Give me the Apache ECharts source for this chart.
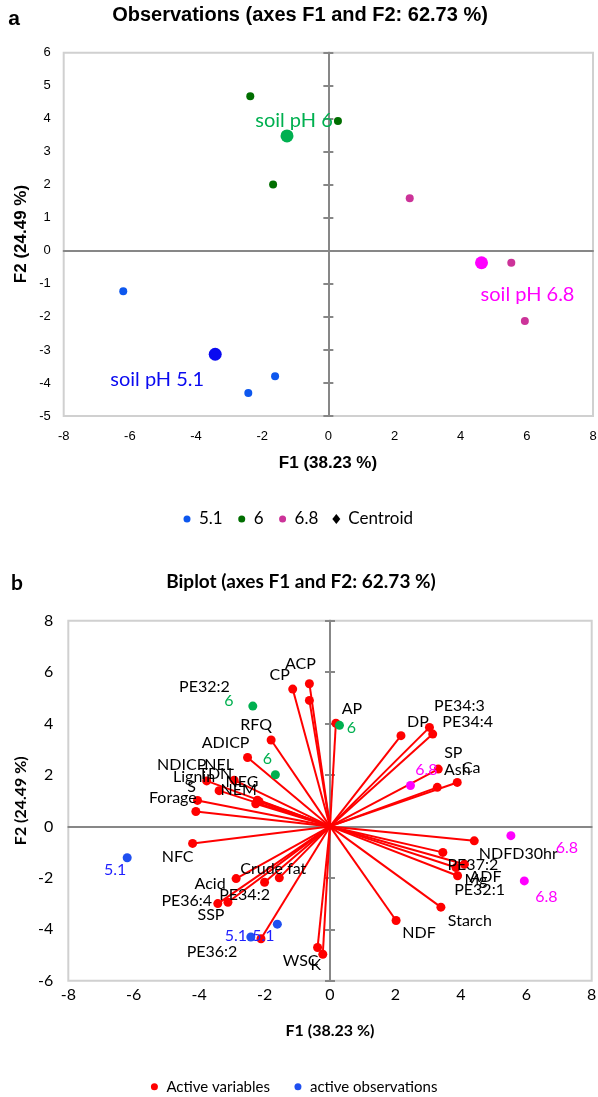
<!DOCTYPE html>
<html><head><meta charset="utf-8">
<script src="https://cdn.jsdelivr.net/npm/echarts@6/dist/echarts.min.js"></script>
<style>
html,body{margin:0;padding:0;background:#fff;}
#a{position:absolute;left:0;top:0;width:598px;height:548px;}
#b{position:absolute;left:0;top:548px;width:598px;height:549px;}
</style>
</head><body><div id="a"></div><div id="b"></div>
<script>
// ---------- data ----------
const groupNames = ['5.1', '6', '6.8'];
const obsF1_51 = [-6.20, -1.61, -2.42];
const obsF2_51 = [-1.22, -3.80, -4.30];
const obsF1_6 = [-2.36, 0.29, -1.67];
const obsF2_6 = [4.68, 3.93, 2.01];
const obsF1_68 = [2.46, 5.53, 5.94];
const obsF2_68 = [1.59, -0.36, -2.12];
const centroidF1 = [-3.42, -1.25, 4.63];
const centroidF2 = [-3.13, 3.48, -0.36];
const centroidLabels = ['soil pH 5.1', 'soil pH 6', 'soil pH 6.8'];

const variables = ['CP','ACP','PE32:2','AP','DP','PE34:3','PE34:4','SP','Ash','Ca','RFQ','ADICP','NDICP','NEL','Lignin','TDN','S','Forage','NEG','NEM','NFC','Acid','Crude fat','PE34:2','PE36:4','SSP','PE36:2','WSC','K','NDFD30hr','PE37:2','ADF','Mg','PE32:1','Starch','NDF'];
const varF1 = [-1.14,-0.63,-0.63,0.18,2.17,3.04,3.14,3.31,3.28,3.89,-1.80,-2.52,-3.77,-2.93,-3.39,-2.22,-4.05,-4.10,-2.17,-2.27,-4.20,-2.87,-1.55,-2.00,-3.43,-3.12,-2.11,-0.38,-0.22,4.41,3.45,4.11,3.85,3.90,3.39,2.02];
const varF2 = [5.34,5.55,4.90,4.01,3.53,3.85,3.59,2.23,1.52,1.71,3.36,2.68,1.77,1.80,1.39,1.02,1.01,0.58,0.97,0.88,-0.66,-2.03,-2.00,-2.17,-3.00,-2.95,-4.37,-4.71,-4.97,-0.56,-1.01,-1.47,-1.60,-1.92,-3.14,-3.66];

const titleA = 'Observations (axes F1 and F2: 62.73 %)';
const titleB = 'Biplot (axes F1 and F2: 62.73 %)';
const xTitle = 'F1 (38.23 %)';
const yTitle = 'F2 (24.49 %)';

// ---------- styles / label placement (not data) ----------
const groupColorsA = ['#0d57ee', '#006e00', '#cc3399'];
const centroidColors = ['#0a0af0', '#00b050', '#ff00ff'];
const centroidLabelOffset = [[-58, 25], [7, -15], [46, 32]];
const obsColorsB = ['#1f4ff0', '#00b050', '#ff00ff'];
const obsLabelColorsB = ['#1f1fff', '#00b050', '#ff00ff'];
const obsLabelOffsetB = [
  [[-12, 12], [-14, 12], [-15, -1]],
  [[-24, -5], [12, 2], [-8, -16]],
  [[16, -16], [56, 12], [22, 16]]
];
const varLabelOffset = {
  'CP':[-13,-14],'ACP':[-9,-20],'PE32:2':[-105,-14],'AP':[16,-14],'DP':[17,-14],'PE34:3':[30,-22],
  'PE34:4':[35,-12],'SP':[15,-16],'Ash':[20,-17],'Ca':[14,-15],'RFQ':[-15,-15],'ADICP':[-22,-15],
  'NDICP':[-25,-16],'NEL':[-15,-15],'Lignin':[-25,-14],'TDN':[-42,-26],'S':[-6,-14],'Forage':[-23,-14],
  'NEG':[-17,-20],'NEM':[-17,-14],'NFC':[-15,13],'Acid':[-26,5],'Crude fat':[-6,-9],'PE34:2':[-20,13],
  'PE36:4':[-31,-3],'SSP':[-17,13],'PE36:2':[-49,13],'WSC':[-17,13],'K':[-7,11],'NDFD30hr':[44,13],
  'PE37:2':[30,12],'ADF':[21,13],'Mg':[20,12],'PE32:1':[22,14],'Starch':[29,14],'NDF':[23,12]
};

const obsF1 = [obsF1_51, obsF1_6, obsF1_68];
const obsF2 = [obsF2_51, obsF2_6, obsF2_68];

const ARIAL = '"Liberation Sans", Arial, sans-serif';
const CAL = 'Lato, "Open Sans", sans-serif';
const ZERO = '#878787';
const DOT_ICON = 'path://M0,0M10,10M8.5,5A3.5,3.5,0,1,1,1.5,5A3.5,3.5,0,1,1,8.5,5Z';
const DIAMOND_ICON = 'path://M4,0L8,5L4,10L0,5Z';

function axesSet(min, max, interval, labelFont, labelSize, labelMargin, xMin, xMax, xInt) {
  const common = {type: 'value', splitLine: {show: false}};
  const xAxis = [
    Object.assign({}, common, {min: xMin, max: xMax, interval: xInt, position: 'bottom',
      axisLine: {show: false}, axisTick: {show: false},
      axisLabel: {fontFamily: labelFont, fontSize: labelSize, color: '#000', margin: labelMargin[0]}}),
    Object.assign({}, common, {min: xMin, max: xMax, interval: xInt,
      axisLine: {show: true, onZero: true, onZeroAxisIndex: 0, lineStyle: {color: ZERO, width: 2}},
      axisTick: {show: false}, axisLabel: {show: false}})
  ];
  const yAxis = [
    Object.assign({}, common, {min: min, max: max, interval: interval, position: 'left',
      axisLine: {show: false}, axisTick: {show: false},
      axisLabel: {fontFamily: labelFont, fontSize: labelSize, color: '#000', margin: labelMargin[1]}}),
    Object.assign({}, common, {min: min, max: max, interval: interval, position: 'left',
      axisLine: {show: true, onZero: true, onZeroAxisIndex: 0, lineStyle: {color: ZERO, width: 2}},
      axisTick: {show: true, inside: false, length: 5, lineStyle: {color: ZERO, width: 2}}, axisLabel: {show: false}}),
    Object.assign({}, common, {min: min, max: max, interval: interval, position: 'left',
      axisLine: {show: true, onZero: true, onZeroAxisIndex: 0, lineStyle: {color: ZERO, width: 2}},
      axisTick: {show: true, inside: true, length: 5, lineStyle: {color: ZERO, width: 2}}, axisLabel: {show: false}})
  ];
  return {xAxis, yAxis};
}

function txt(x, y, text, font, size, weight, rot) {
  return {type: 'text', x: x, y: y, rotation: rot || 0, silent: true,
    style: {text: text, fontFamily: font, fontSize: size, fontWeight: weight, fill: '#000', align: 'center', verticalAlign: 'middle'}};
}

// ---------- chart A ----------
const axA = axesSet(-5, 6, 1, ARIAL, 13, [14, 13], -8, 8, 2);
const seriesA = groupNames.map((g, gi) => ({
  name: g, type: 'scatter', symbolSize: 8, z: 3,
  itemStyle: {color: groupColorsA[gi], opacity: 1},
  data: obsF1[gi].map((x, i) => [x, obsF2[gi][i]])
}));
seriesA.push({
  name: 'Centroid', type: 'scatter', symbolSize: 13, z: 4,
  itemStyle: {color: '#000', opacity: 1},
  label: {show: true, position: 'inside', formatter: '{b}', fontFamily: CAL, fontSize: 20},
  data: centroidF1.map((x, i) => ({
    name: centroidLabels[i], value: [x, centroidF2[i]],
    itemStyle: {color: centroidColors[i]},
    label: {color: centroidColors[i], offset: centroidLabelOffset[i]}
  }))
});
const chartA = echarts.init(document.getElementById('a'), null, {renderer: 'canvas'});
chartA.setOption({
  animation: false,
  backgroundColor: '#fff',
  grid: {left: 63.7, top: 52.7, width: 529.3, height: 363.3, show: true, borderColor: '#d0d0d0', borderWidth: 2, outerBoundsMode: 'none', containLabel: false},
  xAxis: axA.xAxis, yAxis: axA.yAxis,
  legend: {left: 182, top: 509, padding: 0, itemWidth: 14, itemHeight: 10, itemGap: 14, selectedMode: false,
    textStyle: {fontFamily: CAL, fontSize: 17, color: '#000', lineHeight: 20},
    data: [{name: '5.1', icon: DOT_ICON}, {name: '6', icon: DOT_ICON}, {name: '6.8', icon: DOT_ICON},
           {name: 'Centroid', icon: DIAMOND_ICON}]},
  graphic: [
    txt(14, 19, 'a', ARIAL, 21, 'bold'),
    txt(300, 15, titleA, ARIAL, 20, 'bold'),
    txt(328, 463, xTitle, ARIAL, 17, 'bold'),
    txt(21, 234, yTitle, ARIAL, 17, 'bold', Math.PI / 2)
  ],
  series: seriesA
});

// ---------- chart B ----------
const axB = axesSet(-6, 8, 2, CAL, 16, [6, 15], -8, 8, 2);
const seriesB = [
  {
    type: 'custom', z: 2, silent: true,
    data: variables.map((n, i) => [varF1[i], varF2[i]]),
    renderItem: function (params, api) {
      const o = api.coord([0, 0]);
      const p = api.coord([api.value(0), api.value(1)]);
      return {type: 'line', shape: {x1: o[0], y1: o[1], x2: p[0], y2: p[1]},
        style: {stroke: '#ff0000', lineWidth: 2}};
    }
  },
  {
    name: 'Active variables', type: 'scatter', symbolSize: 9, z: 3,
    itemStyle: {color: '#ff0000', opacity: 1},
    label: {show: true, position: 'inside', formatter: '{b}', fontFamily: CAL, fontSize: 16, color: '#000'},
    data: variables.map((n, i) => ({name: n, value: [varF1[i], varF2[i]], label: {offset: varLabelOffset[n]}}))
  },
  {
    name: 'active observations', type: 'scatter', symbolSize: 9, z: 4,
    itemStyle: {color: '#1f4ff0', opacity: 1},
    label: {show: true, position: 'inside', formatter: '{b}', fontFamily: CAL, fontSize: 16},
    data: [].concat.apply([], groupNames.map((g, gi) => obsF1[gi].map((x, i) => ({
      name: g, value: [x, obsF2[gi][i]],
      itemStyle: {color: obsColorsB[gi]},
      label: {color: obsLabelColorsB[gi], offset: obsLabelOffsetB[gi][i]}
    }))))
  }
];
const chartB = echarts.init(document.getElementById('b'), null, {renderer: 'canvas'});
chartB.setOption({
  animation: false,
  backgroundColor: '#fff',
  grid: {left: 68.3, top: 72.7, width: 523.4, height: 360, show: true, borderColor: '#d0d0d0', borderWidth: 2, outerBoundsMode: 'none', containLabel: false},
  xAxis: axB.xAxis, yAxis: axB.yAxis,
  legend: {left: 149.4, top: 529.7, padding: 0, itemWidth: 14, itemHeight: 10, itemGap: 23, selectedMode: false,
    textStyle: {fontFamily: CAL, fontSize: 15, color: '#000', lineHeight: 18},
    data: [{name: 'Active variables', icon: DOT_ICON}, {name: 'active observations', icon: DOT_ICON}]},
  graphic: [
    txt(17, 35, 'b', CAL, 21, 'bold'),
    txt(301, 34, titleB, CAL, 19, 'bold'),
    txt(330, 483, xTitle, CAL, 16, 'bold'),
    txt(21, 252.7, yTitle, CAL, 16, 'bold', Math.PI / 2)
  ],
  series: seriesB
});
</script>
</body></html>
